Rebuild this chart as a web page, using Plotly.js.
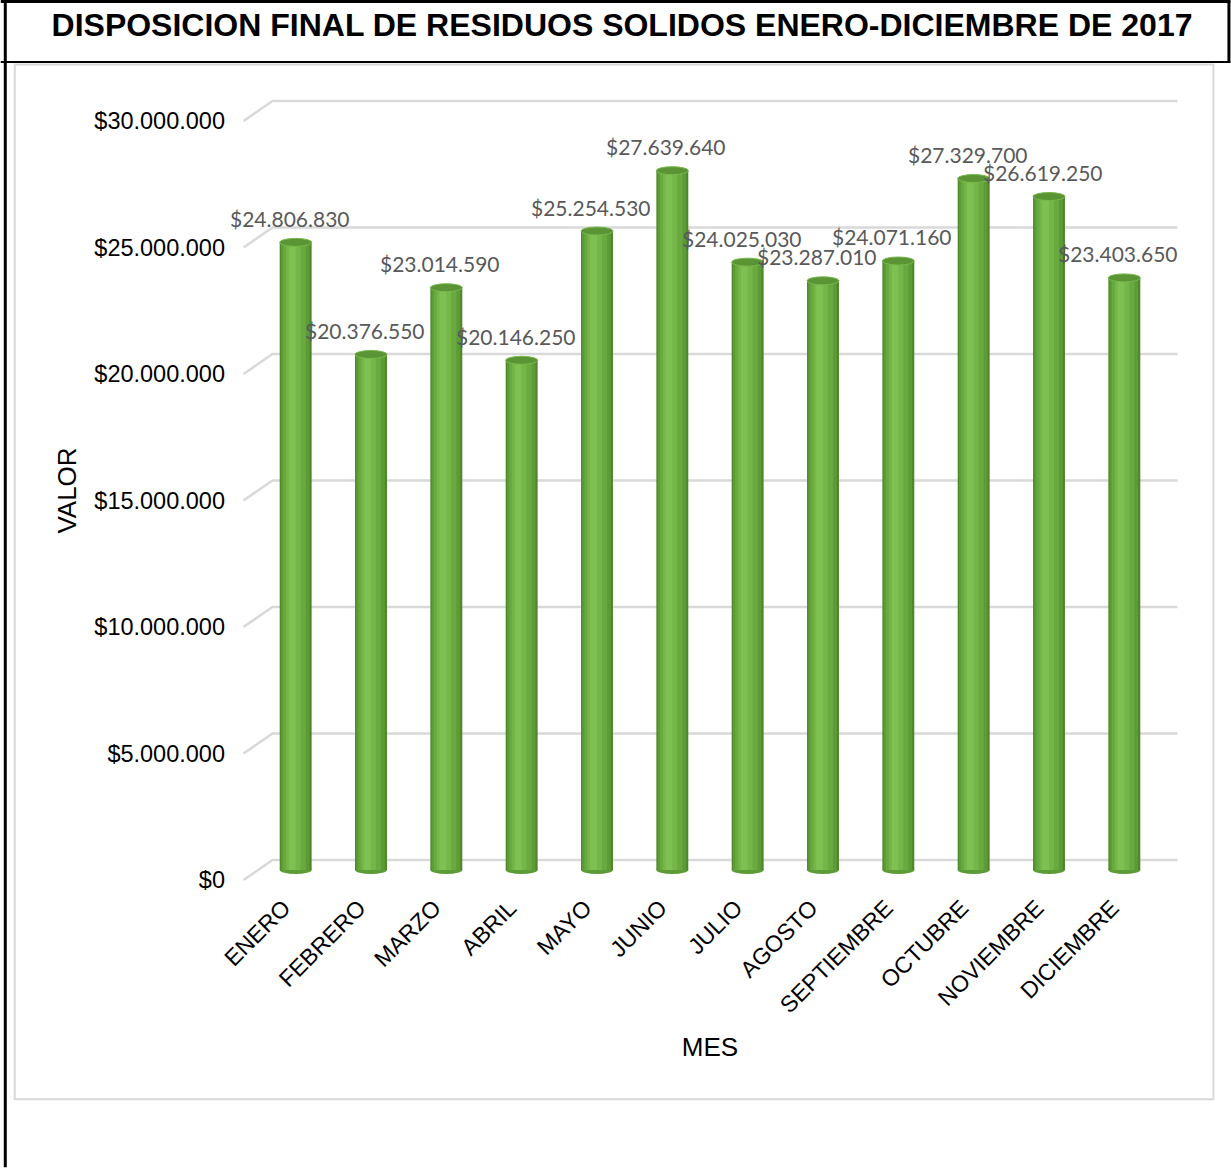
<!DOCTYPE html>
<html>
<head>
<meta charset="utf-8">
<script src="https://cdn.plot.ly/plotly-3.0.1.min.js"></script>
<style>
  html, body { margin: 0; padding: 0; background: #ffffff; }
  #chart { width: 1231px; height: 1168px; }
</style>
</head>
<body>
<div id="chart"></div>
<script>
// ---------- data ----------
const months = ["ENERO", "FEBRERO", "MARZO", "ABRIL", "MAYO", "JUNIO", "JULIO",
                "AGOSTO", "SEPTIEMBRE", "OCTUBRE", "NOVIEMBRE", "DICIEMBRE"];
const values = [24806830, 20376550, 23014590, 20146250, 25254530, 27639640, 24025030,
                23287010, 24071160, 27329700, 26619250, 23403650];
const yTicks = [0, 5000000, 10000000, 15000000, 20000000, 25000000, 30000000];

const chartTitle = "DISPOSICION FINAL DE RESIDUOS SOLIDOS ENERO-DICIEMBRE DE 2017";
const xTitle = "MES";
const yTitle = "VALOR";

// ---------- helpers ----------
function fmt(v) {
  return "$" + String(v).replace(/\B(?=(\d{3})+(?!\d))/g, ".");
}

const W = 1231, H = 1168;
const yMax = 30000000;
// value plane: 0 at 870.5px, yMax at 110.5px; plot area padded so 3D gridlines are not clipped
const PAD = 14;
const valTop = 110.5, valBottom = 870.5;
const unitsPerPx = yMax / (valBottom - valTop);
const M = { l: 257.5, r: 68.5, t: valTop - PAD, b: H - valBottom - PAD };
const plotW = W - M.l - M.r, plotH = H - M.t - M.b;
const px = x => (x - M.l) / plotW;       // page px -> paper x
const py = y => (H - M.b - y) / plotH;   // page px -> paper y

const FONT = "Liberation Sans, Arial, sans-serif";
const LABEL_FONT = "Lato, Open Sans, sans-serif";

// ---------- cylinder-like bars (layered) ----------
const barW = 0.424;
const layers = [
  { w: barW,  shift: 0.000, color: "#4d872a" },
  { w: 0.380, shift: -0.006, color: "#5c9b35" },
  { w: 0.300, shift: -0.016, color: "#68aa3f" },
  { w: 0.190, shift: -0.030, color: "#74b648" },
  { w: 0.090, shift: -0.045, color: "#7fc052" }
];
const traces = layers.map(L => ({
  type: "bar",
  x: months,
  y: values,
  width: L.w,
  offset: -L.w / 2 + L.shift,
  marker: { color: L.color, line: { width: 0 } },
  hoverinfo: "skip",
  showlegend: false
}));

// ---------- shapes ----------
const shapes = [];
// perspective gridlines (front diagonal + back wall line)
const depth = 10, side = 14.5;
const valW = W - 257.5 - 68.5;
yTicks.forEach(v => {
  shapes.push({
    type: "path", xref: "paper", yref: "y",
    xsizemode: "pixel", ysizemode: "pixel", xanchor: 0, yanchor: v,
    path: "M " + (-side) + "," + (-depth) + " L " + side + "," + depth + " L " + (valW + side) + "," + depth,
    line: { color: "#d9d9d9", width: 2.5 },
    layer: "below"
  });
});
// cylinder bottoms and tops
values.forEach((v, i) => {
  shapes.push({
    type: "circle", xref: "x", yref: "y",
    xsizemode: "pixel", ysizemode: "pixel", xanchor: i, yanchor: 0,
    x0: -16, x1: 16, y0: -4, y1: 4,
    fillcolor: "#5c9b35", line: { width: 0 }, layer: "below"
  });
  shapes.push({
    type: "circle", xref: "x", yref: "y",
    xsizemode: "pixel", ysizemode: "pixel", xanchor: i, yanchor: v,
    x0: -16, x1: 16, y0: -4, y1: 4,
    fillcolor: "#5a9434", line: { color: "#78b84c", width: 1 }, layer: "above"
  });
});
// page / table borders
const black = { color: "#000000", width: 3 };
shapes.push({ type: "line", xref: "paper", yref: "paper", x0: px(0), x1: px(W), y0: py(1), y1: py(1), line: black });
shapes.push({ type: "line", xref: "paper", yref: "paper", x0: px(4.5), x1: px(4.5), y0: py(0), y1: py(H), line: black });
shapes.push({ type: "line", xref: "paper", yref: "paper", x0: px(1229.5), x1: px(1229.5), y0: py(0), y1: py(61.5), line: black });
shapes.push({ type: "line", xref: "paper", yref: "paper", x0: px(0), x1: px(W), y0: py(61.5), y1: py(61.5), line: { color: "#000000", width: 2 } });
shapes.push({ type: "rect", xref: "paper", yref: "paper", x0: px(14), x1: px(1214), y0: py(64), y1: py(1100),
              line: { color: "#d9d9d9", width: 2 }, fillcolor: "rgba(0,0,0,0)" });

// ---------- data labels ----------
const annotations = values.map((v, i) => ({
  x: months[i], y: v, xref: "x", yref: "y",
  text: fmt(v), showarrow: false,
  xshift: -6, yshift: 24, yanchor: "middle", xanchor: "center",
  font: { family: LABEL_FONT, size: 21, color: "#595959" }
}));

const layout = {
  width: W, height: H,
  margin: { l: M.l, r: M.r, t: M.t, b: M.b, pad: 0 },
  paper_bgcolor: "#ffffff",
  plot_bgcolor: "rgba(0,0,0,0)",
  barmode: "overlay",
  showlegend: false,
  title: {
    text: chartTitle,
    xref: "container", yref: "container",
    x: 622 / W, y: 1 - 25 / H, xanchor: "center", yanchor: "middle",
    font: { family: FONT, size: 32, weight: 700, color: "#000000" }
  },
  xaxis: {
    type: "category",
    range: [-0.5, months.length - 0.5],
    tickangle: -45,
    ticks: "", showgrid: false, zeroline: false, showline: false,
    ticklabelstandoff: 5,
    ticklabelshift: -12,
    tickfont: { family: FONT, size: 23, color: "#000000" },
    title: { text: xTitle, standoff: 20, font: { family: FONT, size: 26, color: "#000000" } },
    fixedrange: true
  },
  yaxis: {
    range: [-PAD * unitsPerPx, yMax + PAD * unitsPerPx],
    tickvals: yTicks,
    ticktext: yTicks.map(fmt),
    ticks: "", showgrid: false, zeroline: false, showline: false,
    ticklabelshift: 10,
    ticklabelstandoff: 32,
    tickfont: { family: FONT, size: 23.5, color: "#000000" },
    title: { text: yTitle, standoff: 10, font: { family: FONT, size: 26, color: "#000000" } },
    fixedrange: true
  },
  shapes: shapes,
  annotations: annotations
};

Plotly.newPlot("chart", traces, layout, { displayModeBar: false, responsive: false });
</script>
</body>
</html>
